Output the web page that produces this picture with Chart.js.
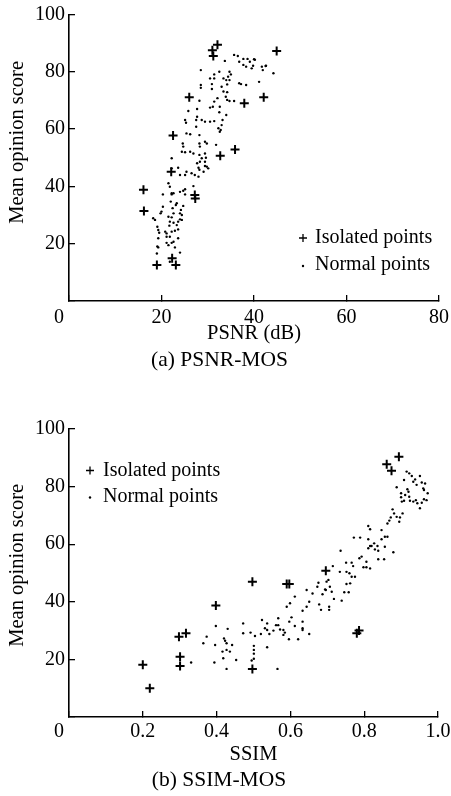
<!DOCTYPE html>
<html>
<head>
<meta charset="utf-8">
<title>PSNR-MOS / SSIM-MOS</title>
<script src="https://cdn.jsdelivr.net/npm/chart.js@4.4.1/dist/chart.umd.min.js"></script>
<style>
    html, body { margin: 0; padding: 0; background: #fff; }
    body { width: 451px; height: 796px; position: relative; overflow: hidden; }
    canvas { position: absolute; left: 0; }
    #psnrChart { top: 0; }
    #ssimChart { top: 400px; }
</style>
</head>
<body>
<canvas id="psnrChart" width="451" height="380"></canvas>
<canvas id="ssimChart" width="451" height="396"></canvas>
<script>
// Tick values and labels
const mosTicks = [0, 20, 40, 60, 80, 100];
const mosTickLabels = ['', '20', '40', '60', '80', '100'];
const psnrTicks = [0, 20, 40, 60, 80];
const psnrTickLabels = ['0', '20', '40', '60', '80'];
const ssimTicks = [0, 0.2, 0.4, 0.6, 0.8, 1.0];
const ssimTickLabels = ['0', '0.2', '0.4', '0.6', '0.8', '1.0'];

// (a) PSNR vs MOS
const psnrIsolatedX = [16.1, 16.2, 19.0, 22.3, 23.1, 22.1, 22.5, 26.0, 27.2, 27.3, 31.0, 31.2, 32.1, 32.7, 35.9, 37.9, 42.1, 44.9];
const psnrIsolatedY = [38.8, 31.4, 12.6, 14.9, 12.6, 45.1, 57.8, 71.1, 37.0, 35.8, 87.5, 85.5, 89.4, 50.7, 52.9, 69.0, 71.1, 87.3];

const psnrNormalX = [
    33.7, 35.7, 36.5, 36.8, 37.7, 38.6, 39.1, 40.2, 37.7, 38.3, 39.8, 39.5, 41.7, 42.6, 41.9, 41.1, 44.2, 42.5, 40.0,
    28.5, 32.5, 34.7, 35.0, 31.4, 30.5, 31.4, 33.4, 34.0, 34.4, 34.7,
    28.5, 28.5, 30.9, 33.0, 34.2, 36.8, 37.2, 38.3, 30.9, 33.4, 34.2, 32.1, 33.9, 34.2,
    28.2, 31.4, 34.7, 35.7, 31.1, 30.5, 32.6, 27.7, 25.8, 32.5, 34.0,
    27.7, 27.5, 25.1, 25.3, 28.7, 29.4, 30.5, 31.4, 33.2, 33.0, 27.5, 32.3, 32.8, 32.6,
    25.4, 26.2, 28.2, 24.6, 24.7, 24.4, 25.1, 26.2, 26.9, 28.2, 29.4, 29.8, 28.3, 31.8, 28.2, 29.4, 28.7, 29.6, 29.4,
    22.2, 23.6, 22.2, 27.7, 28.0, 29.8, 30.1,
    24.0, 25.1, 25.4, 26.5, 27.2, 28.0, 28.2, 29.4, 29.1, 28.3,
    21.5, 21.8, 22.2, 22.6, 20.3, 24.0, 24.7, 25.1, 25.1, 26.9, 22.2,
    22.0, 23.3, 23.1, 24.7, 20.3, 20.0, 19.8, 22.4, 22.6, 24.2, 24.0, 24.4, 18.2, 18.6,
    21.5, 22.2, 21.8, 22.6, 23.6, 24.0, 24.4, 23.3, 21.7, 19.1, 19.3, 19.5, 20.8, 21.1, 22.2, 22.9, 23.6,
    19.3, 21.1, 21.8, 23.6, 21.1, 22.2, 22.6, 21.5, 22.9, 19.3, 19.0, 24.0, 21.8, 19.1
];
const psnrNormalY = [
    83.8, 85.9, 85.5, 83.5, 84.5, 84.5, 83.5, 84.2, 82.4, 81.8, 82.1, 81.2, 81.8, 82.1, 80.6, 76.5, 79.5, 82.0, 84.4,
    80.6, 80.0, 80.0, 79.1, 79.1, 77.7, 77.7, 77.7, 77.1, 78.3, 77.1,
    75.4, 74.4, 75.7, 74.8, 75.6, 76.0, 75.7, 75.4, 74.0, 73.1, 72.9, 70.8, 71.3, 70.2,
    69.9, 69.6, 69.8, 69.8, 67.8, 67.5, 67.8, 67.0, 66.3, 65.9, 64.9,
    64.3, 63.2, 63.2, 62.2, 63.2, 62.6, 62.6, 62.8, 63.2, 61.4, 60.8, 60.3, 59.7, 59.1,
    58.5, 58.2, 57.9, 55.0, 53.9, 52.1, 51.9, 52.1, 51.5, 55.0, 55.6, 55.0, 53.9, 54.5, 51.0, 51.5, 49.8, 50.0, 48.6,
    49.8, 46.5, 46.3, 48.1, 46.5, 46.9, 46.3,
    44.0, 44.0, 45.1, 44.6, 44.0, 43.4, 45.8, 47.1, 45.1, 48.6,
    41.1, 39.9, 37.6, 37.6, 37.2, 38.1, 38.5, 39.0, 37.2, 40.1, 37.2,
    34.7, 34.1, 33.5, 33.2, 32.9, 31.2, 30.6, 32.4, 30.6, 31.8, 30.6, 30.0, 28.9, 28.3,
    29.4, 29.2, 27.7, 27.3, 27.7, 28.5, 28.3, 26.5, 26.3, 25.9, 24.8, 23.8, 24.2, 23.6, 24.2, 24.5, 25.0,
    21.9, 22.4, 22.4, 21.9, 20.3, 20.3, 20.7, 19.5, 18.7, 18.7, 16.6, 16.9, 13.7, 19.0
];

// (b) SSIM vs MOS
const ssimIsolatedX = [0.200, 0.219, 0.298, 0.317, 0.301, 0.301, 0.398, 0.497, 0.497, 0.590, 0.597, 0.696, 0.780, 0.786, 0.861, 0.874, 0.894];
const ssimIsolatedY = [18.1, 10.0, 27.9, 29.1, 20.9, 17.7, 38.7, 47.0, 16.7, 46.2, 46.2, 50.8, 29.1, 30.0, 87.8, 85.5, 90.4];

const ssimNormalX = [
    0.331, 0.364, 0.373, 0.394, 0.396, 0.398, 0.416, 0.418, 0.420, 0.423, 0.427, 0.427, 0.427, 0.430, 0.436, 0.442, 0.453,
    0.472, 0.472, 0.492, 0.504, 0.520, 0.523, 0.537, 0.537, 0.543, 0.531, 0.554, 0.561, 0.567, 0.567, 0.572, 0.581, 0.581, 0.585, 0.596, 0.597, 0.603, 0.612, 0.621, 0.633, 0.633, 0.633, 0.651,
    0.501, 0.501, 0.501, 0.501, 0.495, 0.537, 0.565,
    0.590, 0.599, 0.612, 0.633, 0.644, 0.651, 0.644, 0.660,
    0.673, 0.676, 0.678, 0.683, 0.687, 0.696, 0.698, 0.703, 0.705, 0.705, 0.712, 0.718, 0.739, 0.746, 0.752, 0.758, 0.707, 0.694,
    0.715, 0.734, 0.751, 0.760, 0.736, 0.766, 0.770, 0.752, 0.766, 0.775, 0.762,
    0.787, 0.793, 0.798, 0.806, 0.816, 0.806,
    0.772, 0.789, 0.811, 0.816, 0.811, 0.820, 0.827, 0.829, 0.836, 0.838, 0.847, 0.856, 0.863, 0.856, 0.838, 0.854, 0.879,
    0.811, 0.816, 0.847, 0.863, 0.868, 0.872, 0.881, 0.888, 0.895, 0.897, 0.904, 0.877,
    0.888, 0.900, 0.900, 0.902, 0.908, 0.911, 0.917, 0.920, 0.922, 0.924, 0.933, 0.940, 0.944, 0.951, 0.956, 0.962, 0.969,
    0.908, 0.915, 0.922, 0.929, 0.933, 0.938, 0.942, 0.951, 0.956, 0.960, 0.965, 0.962, 0.972
];
const ssimNormalY = [
    18.9, 25.6, 27.9, 18.9, 25.0, 31.6, 22.7, 20.4, 27.3, 26.5, 25.6, 23.3, 16.7, 30.6, 22.7, 25.0, 19.8,
    32.5, 29.1, 29.3, 28.1, 28.8, 33.7, 32.5, 30.2, 28.8, 30.8, 30.0, 31.9, 34.3, 31.9, 30.4, 30.2, 28.5, 29.3, 27.0, 33.1, 34.6, 31.6, 27.0, 33.1, 30.8, 30.2, 28.8,
    24.7, 23.3, 22.0, 20.2, 19.6, 24.2, 16.7,
    38.3, 39.5, 41.8, 36.9, 38.3, 40.0, 44.1, 42.9,
    45.2, 46.6, 39.1, 37.2, 42.6, 44.1, 47.0, 47.6, 38.3, 37.2, 43.5, 41.0, 40.4, 43.3, 46.2, 43.3, 45.2, 44.3,
    52.4, 50.4, 53.6, 49.9, 57.7, 53.6, 52.4, 50.4, 48.7, 48.7, 46.4,
    55.1, 55.7, 52.0, 52.0, 51.6, 53.9,
    62.3, 62.3, 61.7, 59.4, 58.6, 59.4, 60.3, 58.2, 59.4, 57.7, 61.7, 62.6, 62.6, 59.1, 54.8, 54.8, 57.2,
    66.3, 65.2, 64.9, 67.2, 68.2, 69.3, 70.7, 69.5, 67.8, 69.3, 70.7, 72.1,
    79.8, 77.7, 76.3, 74.8, 75.1, 77.1, 79.1, 78.2, 76.5, 75.1, 74.8, 75.3, 74.2, 72.5, 74.4, 75.6, 75.3,
    82.3, 85.2, 84.6, 83.7, 81.7, 82.5, 80.6, 83.7, 81.4, 79.4, 81.1, 78.8, 77.7
];

const FONT = "'Liberation Serif', 'Times New Roman', serif";

// zip x and y lists into {x, y} points
function toPoints(xs, ys) {
    return xs.map((x, i) => ({ x: x, y: ys[i] }));
}

// Legend drawn inside the plot area (the built-in one can't sit there)
const insideLegend = {
    id: 'insideLegend',
    afterDatasetsDraw(chart, args, opts) {
        const ctx = chart.ctx;
        const area = chart.chartArea;
        const x0 = opts.fromRight != null ? area.right - opts.fromRight : area.left + opts.fromLeft;
        let y = opts.fromBottom != null ? area.bottom - opts.fromBottom : area.top + opts.fromTop;
        ctx.save();
        ctx.font = '20px ' + FONT;
        ctx.fillStyle = '#000';
        ctx.strokeStyle = '#000';
        ctx.textBaseline = 'middle';
        ctx.textAlign = 'left';
        chart.data.datasets.forEach(ds => {
            if (ds.pointStyle === 'cross') {
                ctx.lineWidth = 1.3;
                ctx.beginPath();
                ctx.moveTo(x0 - 4, y); ctx.lineTo(x0 + 4, y);
                ctx.moveTo(x0, y - 4); ctx.lineTo(x0, y + 4);
                ctx.stroke();
            } else {
                ctx.beginPath();
                ctx.arc(x0, y + 1, 1.2, 0, Math.PI * 2);
                ctx.fill();
            }
            ctx.fillText(ds.label, x0 + opts.textGap, y);
            y += opts.rowGap;
        });
        ctx.restore();
    }
};

function buildChart(canvasId, cfg) {
    return new Chart(document.getElementById(canvasId), {
        type: 'scatter',
        data: {
            datasets: [
                {
                    label: 'Isolated points',
                    data: toPoints(cfg.isoX, cfg.isoY),
                    pointStyle: 'cross',
                    pointRadius: 4.5,
                    pointBorderWidth: 2,
                    borderColor: '#000',
                    backgroundColor: '#000'
                },
                {
                    label: 'Normal points',
                    data: toPoints(cfg.normX, cfg.normY),
                    pointStyle: 'circle',
                    pointRadius: 1.2,
                    pointBorderWidth: 0,
                    borderColor: '#000',
                    backgroundColor: '#000'
                }
            ]
        },
        options: {
            responsive: false,
            animation: false,
            events: [],
            layout: { padding: { top: cfg.padTop, right: cfg.padRight, left: 0, bottom: 0 } },
            plugins: {
                legend: { display: false },
                tooltip: { enabled: false },
                title: {
                    display: true,
                    position: 'bottom',
                    text: cfg.caption,
                    color: '#000',
                    font: { family: FONT, size: 21.5, weight: 'normal' },
                    padding: { top: cfg.capPadTop, bottom: cfg.capPadBottom }
                },
                insideLegend: cfg.legend
            },
            scales: {
                x: {
                    type: 'linear',
                    min: cfg.xTicks[0],
                    max: cfg.xTicks[cfg.xTicks.length - 1],
                    afterBuildTicks: s => { s.ticks = cfg.xTicks.map(v => ({ value: v })); },
                    afterFit: s => {
                        s.height = cfg.xAxisHeight;
                        s.paddingLeft = 0;
                        s.paddingRight = 0;
                    },
                    ticks: {
                        // first label sits a little left of the corner
                        callback: (v, i) => i === 0 ? cfg.xLabels[i] + '\u2002\u2002' : cfg.xLabels[i],
                        autoSkip: false,
                        maxRotation: 0,
                        padding: cfg.xTickPad,
                        color: '#000',
                        font: { family: FONT, size: 20 }
                    },
                    grid: { drawOnChartArea: false, tickLength: -6, color: '#000', lineWidth: 1.3 },
                    border: { color: '#000', width: 1.6 },
                    title: {
                        display: true,
                        text: cfg.xTitle,
                        color: '#000',
                        font: { family: FONT, size: 20.5 },
                        padding: { top: 0, bottom: 0 }
                    }
                },
                y: {
                    type: 'linear',
                    min: 0,
                    max: 100,
                    afterBuildTicks: s => { s.ticks = mosTicks.map(v => ({ value: v })); },
                    afterFit: s => {
                        s.width = 69;
                        s.paddingTop = 0;
                        s.paddingBottom = 0;
                    },
                    ticks: {
                        callback: (v, i) => mosTickLabels[i],
                        padding: 10,
                        color: '#000',
                        font: { family: FONT, size: 20 }
                    },
                    grid: { drawOnChartArea: false, tickLength: -6, color: '#000', lineWidth: 1.3 },
                    border: { color: '#000', width: 1.6 },
                    title: {
                        display: true,
                        // leading spaces lift the title a bit above the axis centre, as in the original
                        text: cfg.yTitleLift + 'Mean opinion score',
                        color: '#000',
                        font: { family: FONT, size: 20.5 },
                        padding: { top: 5, bottom: 0 }
                    }
                }
            }
        },
        plugins: [insideLegend]
    });
}

document.addEventListener('DOMContentLoaded', () => {
    buildChart('psnrChart', {
        isoX: psnrIsolatedX, isoY: psnrIsolatedY,
        normX: psnrNormalX, normY: psnrNormalY,
        xTicks: psnrTicks, xLabels: psnrTickLabels,
        xTitle: 'PSNR (dB)',
        yTitleLift: '\u2002\u2002\u2002',
        caption: '(a) PSNR-MOS',
        padTop: 14.5, padRight: 12,
        xAxisHeight: 45.3, xTickPad: 11,
        capPadTop: 0.8, capPadBottom: 7.1,
        legend: { fromRight: 136, fromBottom: 63, textGap: 12, rowGap: 27 }
    });
    buildChart('ssimChart', {
        isoX: ssimIsolatedX, isoY: ssimIsolatedY,
        normX: ssimNormalX, normY: ssimNormalY,
        xTicks: ssimTicks, xLabels: ssimTickLabels,
        xTitle: 'SSIM',
        yTitleLift: '\u2002 ',
        caption: '(b) SSIM-MOS',
        padTop: 29, padRight: 13,
        xAxisHeight: 49.8, xTickPad: 9,
        capPadTop: 0.3, capPadBottom: 3.1,
        legend: { fromLeft: 21, fromTop: 41.5, textGap: 13, rowGap: 26 }
    });
});
</script>
</body>
</html>
